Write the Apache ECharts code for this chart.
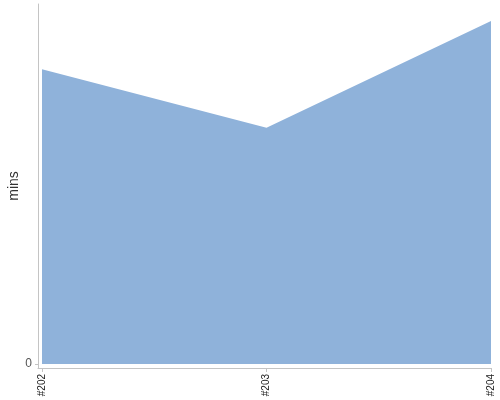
<!DOCTYPE html>
<html>
<head>
<meta charset="utf-8">
<script src="https://cdn.jsdelivr.net/npm/echarts@6/dist/echarts.min.js"></script>
<style>html,body{margin:0;padding:0;background:#fff}#c{width:500px;height:400px}</style>
</head>
<body>
<div id="c"></div>
<script>
var categories = ['#202', '#203', '#204'];
var minsValues = [81.9, 65.6, 95.3];
var yTickValues = [0];

var chart = echarts.init(document.getElementById('c'), null, {renderer: 'canvas'});
var points = categories.map(function (c, i) { return [i, minsValues[i]]; });
var catIdx = categories.map(function (c, i) { return i; });

chart.setOption({
  animation: false,
  grid: {left: 38, right: 9, top: 4, bottom: 32, containLabel: false, outerBoundsMode: 'none'},
  xAxis: {
    type: 'value',
    min: -0.0178,
    max: 2,
    splitLine: {show: false},
    axisLine: {show: true, onZero: false, lineStyle: {color: '#c4c4c4', width: 1}},
    axisTick: {show: true, length: 4, customValues: catIdx, lineStyle: {color: '#c4c4c4'}},
    axisLabel: {
      customValues: catIdx,
      rotate: 90,
      margin: 6,
      fontSize: 10,
      color: '#222',
      fontFamily: 'Arial, Liberation Sans, sans-serif',
      formatter: function (v) { return categories[Math.round(v)]; }
    }
  },
  yAxis: {
    type: 'value',
    min: -1.11,
    max: 100,
    name: 'mins',
    nameLocation: 'middle',
    nameRotate: 90,
    nameGap: 17,
    nameMoveOverlap: false,
    nameTextStyle: {fontSize: 14, color: '#333', fontFamily: 'Arial, Liberation Sans, sans-serif'},
    splitLine: {show: false},
    axisLine: {show: true, onZero: false, lineStyle: {color: '#c4c4c4', width: 1}},
    axisTick: {show: true, length: 3, customValues: yTickValues, lineStyle: {color: '#c4c4c4'}},
    axisLabel: {
      customValues: yTickValues,
      margin: 6,
      fontSize: 12,
      color: '#555',
      fontFamily: 'Arial, Liberation Sans, sans-serif'
    }
  },
  series: [{
    type: 'line',
    data: points,
    showSymbol: false,
    symbol: 'none',
    lineStyle: {width: 0},
    areaStyle: {color: '#8fb2da', opacity: 1, origin: 0}
  }]
});
</script>
</body>
</html>
